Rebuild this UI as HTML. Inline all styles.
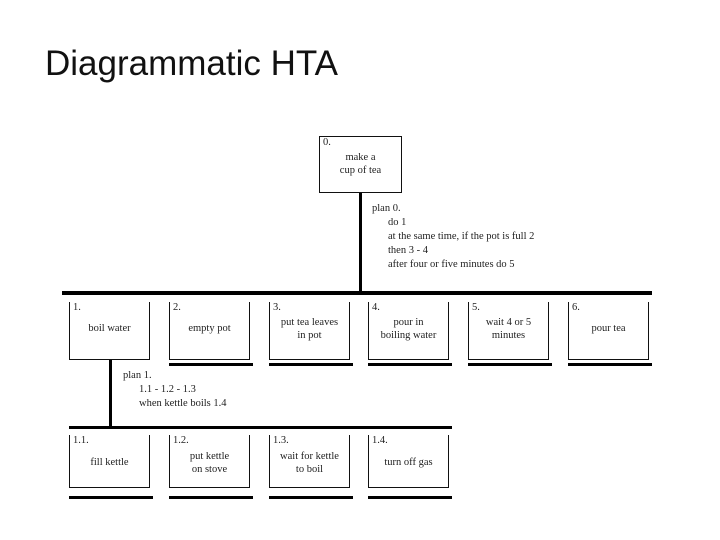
<!DOCTYPE html>
<html><head><style>
body{margin:0;width:720px;height:540px;background:#fff;position:relative;overflow:hidden;font-family:"Liberation Serif",serif;color:#222}
.t{position:absolute;left:45px;top:44px;font-family:"Liberation Sans",sans-serif;font-size:35px;color:#111}
.b{position:absolute;border-left:1.5px solid #111;border-right:1.5px solid #111;border-bottom:1.5px solid #111;width:81px;font-size:10.5px;box-sizing:border-box}
.b .n{position:absolute;left:3px;top:0}
.b .l{position:absolute;left:0;right:0;text-align:center;line-height:13px}
.u{position:absolute;height:3px;background:#000;width:84px}
.p{position:absolute;font-size:10.5px;line-height:14px;white-space:nowrap}
.k{position:absolute;background:#000}
</style></head><body>
<div class="t">Diagrammatic HTA</div>
<div class="b" style="left:319px;top:136px;height:57px;border-top:1.5px solid #111;width:83px"><span class="n">0.</span><div class="l" style="top:14px">make a<br>cup of tea</div></div>
<div class="k" style="left:359px;top:193px;width:3px;height:100px"></div>
<div class="p" style="left:372px;top:202px">plan 0.<br><span style="padding-left:16px">do 1</span><br><span style="padding-left:16px">at the same time, if the pot is full 2</span><br><span style="padding-left:16px">then 3 - 4</span><br><span style="padding-left:16px">after four or five minutes do 5</span></div>
<div class="k" style="left:62px;top:291px;width:590px;height:4px"></div>

<div class="b" style="left:69px;top:302px;height:58px"><span class="n">1.</span><div class="l" style="top:20px">boil water</div></div>
<div class="b" style="left:169px;top:302px;height:58px"><span class="n">2.</span><div class="l" style="top:20px">empty pot</div></div>
<div class="b" style="left:269px;top:302px;height:58px"><span class="n">3.</span><div class="l" style="top:14px">put tea leaves<br>in pot</div></div>
<div class="b" style="left:368px;top:302px;height:58px"><span class="n">4.</span><div class="l" style="top:14px">pour in<br>boiling water</div></div>
<div class="b" style="left:468px;top:302px;height:58px"><span class="n">5.</span><div class="l" style="top:14px">wait 4 or 5<br>minutes</div></div>
<div class="b" style="left:568px;top:302px;height:58px"><span class="n">6.</span><div class="l" style="top:20px">pour tea</div></div>
<div class="u" style="left:169px;top:363px"></div>
<div class="u" style="left:269px;top:363px"></div>
<div class="u" style="left:368px;top:363px"></div>
<div class="u" style="left:468px;top:363px"></div>
<div class="u" style="left:568px;top:363px"></div>

<div class="k" style="left:109px;top:360px;width:3px;height:68px"></div>
<div class="p" style="left:123px;top:369px">plan 1.<br><span style="padding-left:16px">1.1 - 1.2 - 1.3</span><br><span style="padding-left:16px">when kettle boils 1.4</span></div>
<div class="k" style="left:69px;top:426px;width:383px;height:3px"></div>

<div class="b" style="left:69px;top:435px;height:53px"><span class="n">1.1.</span><div class="l" style="top:21px">fill kettle</div></div>
<div class="b" style="left:169px;top:435px;height:53px"><span class="n">1.2.</span><div class="l" style="top:15px">put kettle<br>on stove</div></div>
<div class="b" style="left:269px;top:435px;height:53px"><span class="n">1.3.</span><div class="l" style="top:15px">wait for kettle<br>to boil</div></div>
<div class="b" style="left:368px;top:435px;height:53px"><span class="n">1.4.</span><div class="l" style="top:21px">turn off gas</div></div>
<div class="u" style="left:69px;top:496px"></div>
<div class="u" style="left:169px;top:496px"></div>
<div class="u" style="left:269px;top:496px"></div>
<div class="u" style="left:368px;top:496px"></div>
</body></html>
